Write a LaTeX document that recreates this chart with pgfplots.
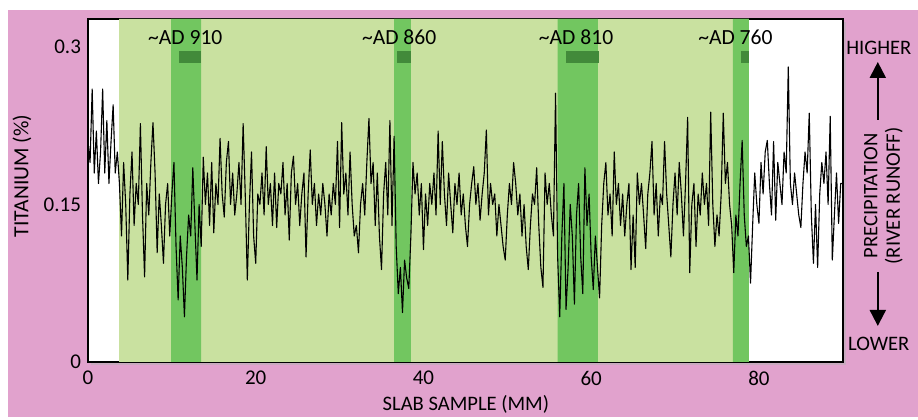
\documentclass[border=0pt]{standalone}
\usepackage{fontspec}
\setmainfont{Carlito}
\usepackage{pgfplots}
\pgfplotsset{compat=1.18}
\usetikzlibrary{arrows.meta}

\definecolor{bgpink}{RGB}{225,162,205}
\definecolor{lightgreen}{RGB}{201,225,160}
\definecolor{bandgreen}{RGB}{114,198,96}
\definecolor{bargreen}{RGB}{66,138,58}

% titanium trace (mm, %)
\pgfplotstableread{
x y
0.00 0.21
0.25 0.19
0.50 0.26
0.75 0.18
1.00 0.22
1.25 0.17
1.50 0.20
1.75 0.26
2.00 0.18
2.25 0.23
2.50 0.17
2.75 0.21
3.00 0.245
3.25 0.18
3.50 0.20
3.75 0.17
4.00 0.12
4.25 0.19
4.50 0.15
4.75 0.078
5.00 0.16
5.25 0.20
5.50 0.13
5.75 0.17
6.00 0.15
6.25 0.227
6.50 0.14
6.75 0.081
7.00 0.17
7.25 0.14
7.50 0.19
7.75 0.228
8.00 0.18
8.25 0.104
8.50 0.16
8.75 0.13
9.00 0.094
9.25 0.15
9.50 0.17
9.75 0.12
10.00 0.16
10.25 0.19
10.50 0.11
10.75 0.059
11.00 0.12
11.25 0.09
11.50 0.043
11.75 0.10
12.00 0.14
12.25 0.12
12.50 0.185
12.75 0.13
13.00 0.078
13.25 0.15
13.50 0.11
13.75 0.195
14.00 0.15
14.25 0.18
14.50 0.13
14.75 0.19
15.00 0.123
15.25 0.17
15.50 0.15
15.75 0.213
16.00 0.16
16.25 0.138
16.50 0.19
16.75 0.21
17.00 0.15
17.25 0.18
17.50 0.14
17.75 0.16
18.00 0.19
18.25 0.15
18.50 0.227
18.75 0.16
19.00 0.078
19.25 0.15
19.50 0.20
19.75 0.12
20.00 0.094
20.25 0.16
20.50 0.15
20.75 0.18
21.00 0.14
21.25 0.205
21.50 0.15
21.75 0.17
22.00 0.13
22.25 0.18
22.50 0.128
22.75 0.17
23.00 0.16
23.25 0.19
23.50 0.14
23.75 0.17
24.00 0.116
24.25 0.18
24.50 0.196
24.75 0.15
25.00 0.17
25.25 0.13
25.50 0.16
25.75 0.18
26.00 0.10
26.25 0.16
26.50 0.202
26.75 0.15
27.00 0.17
27.25 0.13
27.50 0.16
27.75 0.14
28.00 0.17
28.25 0.15
28.50 0.12
28.75 0.16
29.00 0.14
29.25 0.17
29.50 0.15
29.75 0.21
30.00 0.128
30.25 0.228
30.50 0.16
30.75 0.18
31.00 0.14
31.25 0.20
31.50 0.15
31.75 0.12
32.00 0.13
32.25 0.104
32.50 0.15
32.75 0.17
33.00 0.14
33.25 0.19
33.50 0.232
33.75 0.17
34.00 0.19
34.25 0.13
34.50 0.18
34.75 0.12
35.00 0.088
35.25 0.16
35.50 0.19
35.75 0.14
36.00 0.23
36.25 0.13
36.50 0.215
36.75 0.11
37.00 0.065
37.25 0.09
37.50 0.047
37.75 0.097
38.00 0.08
38.25 0.07
38.50 0.12
38.75 0.19
39.00 0.16
39.25 0.18
39.50 0.14
39.75 0.17
40.00 0.107
40.25 0.16
40.50 0.13
40.75 0.17
41.00 0.15
41.25 0.18
41.50 0.14
41.75 0.22
42.00 0.15
42.25 0.21
42.50 0.16
42.75 0.13
43.00 0.18
43.25 0.15
43.50 0.123
43.75 0.17
44.00 0.15
44.25 0.18
44.50 0.14
44.75 0.16
45.00 0.13
45.25 0.11
45.50 0.15
45.75 0.17
46.00 0.186
46.25 0.15
46.50 0.17
46.75 0.135
47.00 0.16
47.25 0.18
47.50 0.221
47.75 0.14
48.00 0.17
48.25 0.15
48.50 0.16
48.75 0.12
49.00 0.15
49.25 0.13
49.50 0.11
49.75 0.097
50.00 0.14
50.25 0.17
50.50 0.15
50.75 0.19
51.00 0.17
51.25 0.14
51.50 0.16
51.75 0.12
52.00 0.15
52.25 0.11
52.50 0.088
52.75 0.13
53.00 0.16
53.25 0.15
53.50 0.185
53.75 0.13
54.00 0.09
54.25 0.071
54.50 0.18
54.75 0.15
55.00 0.17
55.25 0.14
55.50 0.12
55.75 0.256
56.00 0.10
56.25 0.043
56.50 0.12
56.75 0.17
57.00 0.05
57.25 0.09
57.50 0.15
57.75 0.12
58.00 0.055
58.25 0.14
58.50 0.17
58.75 0.10
59.00 0.065
59.25 0.185
59.50 0.13
59.75 0.16
60.00 0.10
60.25 0.069
60.50 0.12
60.75 0.09
61.00 0.061
61.25 0.13
61.50 0.17
61.75 0.19
62.00 0.14
62.25 0.16
62.50 0.12
62.75 0.20
63.00 0.15
63.25 0.17
63.50 0.13
63.75 0.16
64.00 0.12
64.25 0.15
64.50 0.17
64.75 0.088
65.00 0.14
65.25 0.09
65.50 0.18
65.75 0.15
66.00 0.17
66.25 0.14
66.50 0.108
66.75 0.16
67.00 0.18
67.25 0.21
67.50 0.14
67.75 0.17
68.00 0.12
68.25 0.16
68.50 0.15
68.75 0.21
69.00 0.16
69.25 0.13
69.50 0.10
69.75 0.15
70.00 0.18
70.25 0.14
70.50 0.19
70.75 0.16
71.00 0.12
71.25 0.17
71.50 0.233
71.75 0.085
72.00 0.15
72.25 0.17
72.50 0.11
72.75 0.16
73.00 0.14
73.25 0.18
73.50 0.15
73.75 0.17
74.00 0.13
74.25 0.238
74.50 0.15
74.75 0.11
75.00 0.14
75.25 0.12
75.50 0.16
75.75 0.237
76.00 0.17
76.25 0.19
76.50 0.15
76.75 0.13
77.00 0.085
77.25 0.14
77.50 0.12
77.75 0.17
78.00 0.211
78.25 0.14
78.50 0.11
78.75 0.12
79.00 0.075
79.25 0.13
79.50 0.18
79.75 0.15
80.00 0.132
80.25 0.19
80.50 0.16
80.75 0.20
81.00 0.211
81.25 0.17
81.50 0.14
81.75 0.21
82.00 0.135
82.25 0.19
82.50 0.17
82.75 0.15
83.00 0.20
83.25 0.18
83.50 0.281
83.75 0.17
84.00 0.15
84.25 0.18
84.50 0.16
84.75 0.14
85.00 0.128
85.25 0.17
85.50 0.20
85.75 0.18
86.00 0.237
86.25 0.14
86.50 0.094
86.75 0.15
87.00 0.09
87.25 0.16
87.50 0.19
87.75 0.17
88.00 0.20
88.25 0.15
88.50 0.234
88.75 0.097
89.00 0.14
89.25 0.18
89.50 0.132
89.75 0.17
90.00 0.17
}\titanium

\begin{document}
\begin{tikzpicture}
% backdrop, in pixel units of the reference (y grows downward)
\begin{scope}[x=0.5pt,y=-0.5pt]
  \fill[white] (0,0) rectangle (918,417);
  \fill[bgpink] (8,10) rectangle (918,417);
  \fill[black!30,opacity=0.5] (91,22) rectangle (846,365);
\end{scope}

\begin{axis}[
  at={(44pt,-181pt)}, anchor=south west,
  scale only axis,
  width=377.5pt, height=171.5pt,
  xmin=0, xmax=90,
  ymin=0, ymax=0.3267,
  xtick={0,20,40,60,80},
  ytick={0,0.15,0.3},
  yticklabels={0,0.15,0.3},
  major tick length=0pt,
  tick label style={font=\fontsize{10.5}{12}\selectfont, /pgf/number format/assume math mode=true},
  xticklabel style={yshift=-1pt},
  axis line style={black, line width=1pt},
  axis background/.style={fill=white},
  clip=true,
]
% sediment bands
\addplot[fill=lightgreen, draw=none] coordinates {(3.7,0) (3.7,0.3267) (78.8,0.3267) (78.8,0)} \closedcycle;
\addplot[fill=bandgreen, draw=none] coordinates {(9.9,0) (9.9,0.3267) (13.5,0.3267) (13.5,0)} \closedcycle;
\addplot[fill=bandgreen, draw=none] coordinates {(36.5,0) (36.5,0.3267) (38.5,0.3267) (38.5,0)} \closedcycle;
\addplot[fill=bandgreen, draw=none] coordinates {(56.0,0) (56.0,0.3267) (60.8,0.3267) (60.8,0)} \closedcycle;
\addplot[fill=bandgreen, draw=none] coordinates {(76.9,0) (76.9,0.3267) (78.8,0.3267) (78.8,0)} \closedcycle;
% dating markers
\addplot[fill=bargreen, draw=none] coordinates {(10.8,0.285) (10.8,0.296) (13.5,0.296) (13.5,0.285)} -- cycle;
\addplot[fill=bargreen, draw=none] coordinates {(36.9,0.285) (36.9,0.296) (38.5,0.296) (38.5,0.285)} -- cycle;
\addplot[fill=bargreen, draw=none] coordinates {(57.0,0.285) (57.0,0.296) (60.9,0.296) (60.9,0.285)} -- cycle;
\addplot[fill=bargreen, draw=none] coordinates {(77.9,0.285) (77.9,0.296) (78.8,0.296) (78.8,0.285)} -- cycle;

\addplot[black, line width=0.55pt, line join=round] table[x=x, y=y] {\titanium};

\node[font=\fontsize{10.8}{12}\selectfont] at (axis cs:11.6,0.309) {\textasciitilde AD 910};
\node[font=\fontsize{10.8}{12}\selectfont] at (axis cs:37.1,0.309) {\textasciitilde AD 860};
\node[font=\fontsize{10.8}{12}\selectfont] at (axis cs:58.2,0.309) {\textasciitilde AD 810};
\node[font=\fontsize{10.8}{12}\selectfont] at (axis cs:77.2,0.309) {\textasciitilde AD 760};
\end{axis}

\begin{scope}[x=0.5pt,y=-0.5pt, font=\fontsize{10.3}{12}\selectfont]
  \node at (466,404) {SLAB SAMPLE (MM)};
  \node[rotate=90, font=\fontsize{10.8}{12}\selectfont] at (22,176) {TITANIUM (\%)};
  \node at (879,48) {HIGHER};
  \node at (879,344) {LOWER};
  \draw[line width=1.1pt, -{Triangle[width=8pt,length=8pt]}] (878,120) -- (878,62);
  \draw[line width=1.1pt, -{Triangle[width=8pt,length=8pt]}] (878,272) -- (878,326);
  \node[rotate=90] at (871,196) {PRECIPITATION};
  \node[rotate=90] at (894,196) {(RIVER RUNOFF)};
\end{scope}
\end{tikzpicture}
\end{document}
